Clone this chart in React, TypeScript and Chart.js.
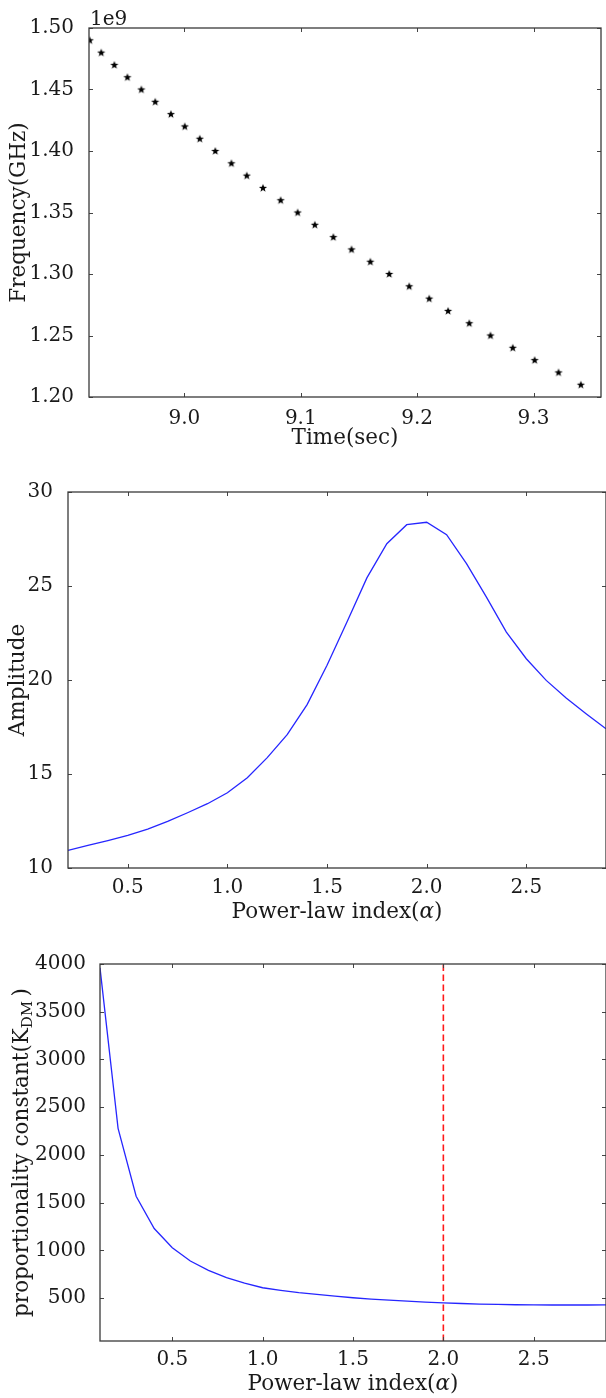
import React, { useEffect, useRef } from "react";
import { Chart, registerables } from "chart.js";
Chart.register(...registerables);

const FONT = "'DejaVu Serif', 'Liberation Serif', serif";
const TEXT = "#1a1a1a";
const TITLE_SIZE = 21.5;

// ---------- Chart 1: frequency vs time ----------
const timeSec = [
  8.9186, 8.9285, 8.9398, 8.951, 8.963, 8.9749, 8.9884, 9.0003, 9.0132, 9.0265,
  9.0404, 9.0536, 9.0675, 9.0827, 9.0973, 9.1121, 9.128, 9.1436, 9.1598, 9.176,
  9.1932, 9.2104, 9.2266, 9.2448, 9.263, 9.2822, 9.301, 9.3215, 9.3407,
];
const freqHz = [
  1.49e9, 1.48e9, 1.47e9, 1.46e9, 1.45e9, 1.44e9, 1.43e9, 1.42e9, 1.41e9, 1.4e9,
  1.39e9, 1.38e9, 1.37e9, 1.36e9, 1.35e9, 1.34e9, 1.33e9, 1.32e9, 1.31e9, 1.3e9,
  1.29e9, 1.28e9, 1.27e9, 1.26e9, 1.25e9, 1.24e9, 1.23e9, 1.22e9, 1.21e9,
];
const timeTicks = [9.0, 9.1, 9.2, 9.3];
const freqTicks = [1.2e9, 1.25e9, 1.3e9, 1.35e9, 1.4e9, 1.45e9, 1.5e9];

// ---------- Chart 2: amplitude vs power-law index ----------
const alphaAmp = [
  0.2, 0.3, 0.4, 0.5, 0.6, 0.7, 0.8, 0.9, 1.0, 1.1, 1.2, 1.3, 1.4, 1.5,
  1.6, 1.7, 1.8, 1.9, 2.0, 2.1, 2.2, 2.3, 2.4, 2.5, 2.6, 2.7, 2.8, 2.9,
];
const amplitude = [
  10.94, 11.2, 11.46, 11.74, 12.07, 12.48, 12.94, 13.42, 14.0, 14.8, 15.87, 17.09, 18.69, 20.78,
  23.09, 25.43, 27.25, 28.26, 28.39, 27.73, 26.19, 24.41, 22.55, 21.13, 19.98, 19.04, 18.21, 17.41,
];
const ampTicks = [10, 15, 20, 25, 30];
const alphaTicks = [0.5, 1.0, 1.5, 2.0, 2.5];

// ---------- Chart 3: proportionality constant vs power-law index ----------
const alphaK = [
  0.1, 0.2, 0.3, 0.4, 0.5, 0.6, 0.7, 0.8, 0.9, 1.0, 1.1, 1.2, 1.3, 1.4, 1.5,
  1.6, 1.7, 1.8, 1.9, 2.0, 2.1, 2.2, 2.3, 2.4, 2.5, 2.6, 2.7, 2.8, 2.9,
];
const kdm = [
  3960, 2278, 1567, 1228, 1028, 888, 790, 713, 657, 608, 580, 556, 538, 521, 503,
  489, 479, 468, 458, 450, 443, 437, 433, 430, 428, 427, 427, 427, 428,
];
const kTicks = [500, 1000, 1500, 2000, 2500, 3000, 3500, 4000];
const markerAlpha = 2.0;

type Seg = { t: string; size?: number; italic?: boolean; dy?: number };

interface FrameCfg {
  xTitle: Seg[];
  xTitleY: number;
  yTitle: Seg[];
  yTitleX: number;
  offsetText?: string;
}

function segFont(s: Seg) {
  return `${s.italic ? "italic " : ""}${s.size || TITLE_SIZE}px ${FONT}`;
}

function drawSegs(ctx: CanvasRenderingContext2D, segs: Seg[], cx: number, cy: number, rotate: boolean) {
  ctx.save();
  ctx.translate(cx, cy);
  if (rotate) ctx.rotate(-Math.PI / 2);
  let total = 0;
  const widths = segs.map((s) => {
    ctx.font = segFont(s);
    const w = ctx.measureText(s.t).width;
    total += w;
    return w;
  });
  let x = -total / 2;
  ctx.textBaseline = "alphabetic";
  ctx.textAlign = "left";
  ctx.fillStyle = TEXT;
  segs.forEach((s, i) => {
    ctx.font = segFont(s);
    ctx.fillText(s.t, x, TITLE_SIZE * 0.36 + (s.dy || 0));
    x += widths[i];
  });
  ctx.restore();
}

function makeFrame(cfg: FrameCfg) {
  return {
    id: "frame",
    afterDatasetsDraw(chart: any) {
      const { ctx, chartArea: a } = chart;
      const xs = chart.scales.x;
      const ys = chart.scales.y;
      ctx.save();
      ctx.strokeStyle = "#444";
      ctx.lineWidth = 1;
      ctx.beginPath();
      const tl = 4;
      xs.ticks.forEach((t: any) => {
        const px = Math.round(xs.getPixelForValue(t.value)) + 0.5;
        ctx.moveTo(px, a.bottom);
        ctx.lineTo(px, a.bottom - tl);
        ctx.moveTo(px, a.top);
        ctx.lineTo(px, a.top + tl);
      });
      ys.ticks.forEach((t: any) => {
        const py = Math.round(ys.getPixelForValue(t.value)) + 0.5;
        ctx.moveTo(a.left, py);
        ctx.lineTo(a.left + tl, py);
        ctx.moveTo(a.right, py);
        ctx.lineTo(a.right - tl, py);
      });
      ctx.stroke();
      ctx.lineWidth = 1.3;
      ctx.strokeStyle = "#3a3a3a";
      ctx.strokeRect(a.left, a.top, a.right - a.left, a.bottom - a.top);
      drawSegs(ctx, cfg.xTitle, (a.left + a.right) / 2, cfg.xTitleY, false);
      drawSegs(ctx, cfg.yTitle, cfg.yTitleX, (a.top + a.bottom) / 2, true);
      if (cfg.offsetText) {
        ctx.font = `20px ${FONT}`;
        ctx.fillStyle = TEXT;
        ctx.textAlign = "left";
        ctx.textBaseline = "alphabetic";
        ctx.fillText(cfg.offsetText, a.left + 1, a.top - 3);
      }
      ctx.restore();
    },
  };
}

function scaleCfg(
  min: number,
  max: number,
  tickVals: number[],
  fmt: (v: number) => string,
  axis: "x" | "y",
  size: number,
  pad: number
) {
  return {
    type: "linear" as const,
    min,
    max,
    grid: { display: false },
    border: { display: false },
    ticks: {
      padding: pad,
      font: { family: FONT, size: 20 },
      color: TEXT,
      autoSkip: false,
      maxRotation: 0,
      callback: (v: any) => fmt(Number(v)),
    },
    afterBuildTicks: (s: any) => {
      s.ticks = tickVals.map((v) => ({ value: v }));
    },
    afterFit: (s: any) => {
      if (axis === "y") s.width = size;
      else s.height = size;
    },
  };
}

function makeStar(): HTMLCanvasElement {
  const c = document.createElement("canvas");
  c.width = 10;
  c.height = 10;
  const g = c.getContext("2d")!;
  g.fillStyle = "#000";
  g.beginPath();
  const R = 4.3;
  const r = 1.8;
  for (let i = 0; i < 10; i++) {
    const ang = -Math.PI / 2 + (i * Math.PI) / 5;
    const rad = i % 2 === 0 ? R : r;
    const px = 5 + rad * Math.cos(ang);
    const py = 5.3 + rad * Math.sin(ang);
    if (i === 0) g.moveTo(px, py);
    else g.lineTo(px, py);
  }
  g.closePath();
  g.fill();
  return c;
}

function config1(): any {
  return {
    type: "scatter",
    data: {
      datasets: [
        {
          data: timeSec.map((t, i) => ({ x: t, y: freqHz[i] })),
          pointStyle: makeStar(),
          pointRadius: 4,
          showLine: false,
          clip: 0,
        },
      ],
    },
    options: {
      responsive: false,
      animation: false,
      devicePixelRatio: 1,
      layout: { padding: { left: 0, top: 28, right: 2, bottom: 0 } },
      plugins: { legend: { display: false }, tooltip: { enabled: false } },
      scales: {
        x: scaleCfg(8.918, 9.358, timeTicks, (v) => v.toFixed(1), "x", 460 - 397, 2),
        y: scaleCfg(1.2e9, 1.5e9, freqTicks, (v) => (v / 1e9).toFixed(2), "y", 89, 7),
      },
    },
    plugins: [
      makeFrame({
        xTitle: [{ t: "Time(sec)" }],
        xTitleY: 436,
        yTitle: [{ t: "Frequency(GHz)" }],
        yTitleX: 17,
        offsetText: "1e9",
      }),
    ],
  };
}

const alphaTitle: Seg[] = [{ t: "Power-law index(" }, { t: "α", italic: true }, { t: ")" }];

function config2(): any {
  return {
    type: "scatter",
    data: {
      datasets: [
        {
          data: alphaAmp.map((a, i) => ({ x: a, y: amplitude[i] })),
          showLine: true,
          borderColor: "#2626ff",
          borderWidth: 1.3,
          pointRadius: 0,
          fill: false,
          clip: 0,
        },
      ],
    },
    options: {
      responsive: false,
      animation: false,
      devicePixelRatio: 1,
      layout: { padding: { left: 0, top: 32, right: 0, bottom: 0 } },
      plugins: { legend: { display: false }, tooltip: { enabled: false } },
      scales: {
        x: scaleCfg(0.2, 2.9, alphaTicks, (v) => v.toFixed(1), "x", 470 - 408, 0),
        y: scaleCfg(10, 30, ampTicks, (v) => String(v), "y", 68, 7),
      },
    },
    plugins: [
      makeFrame({
        xTitle: alphaTitle,
        xTitleY: 450,
        yTitle: [{ t: "Amplitude" }],
        yTitleX: 16,
      }),
    ],
  };
}

function config3(): any {
  return {
    type: "scatter",
    data: {
      datasets: [
        {
          data: alphaK.map((a, i) => ({ x: a, y: kdm[i] })),
          showLine: true,
          borderColor: "#2626ff",
          borderWidth: 1.3,
          pointRadius: 0,
          fill: false,
          clip: 0,
        },
        {
          data: [
            { x: markerAlpha, y: 50 },
            { x: markerAlpha, y: 4000 },
          ],
          showLine: true,
          borderColor: "#ff1a1a",
          borderWidth: 1.6,
          borderDash: [6.5, 3.5],
          pointRadius: 0,
          fill: false,
          clip: 0,
        },
      ],
    },
    options: {
      responsive: false,
      animation: false,
      devicePixelRatio: 1,
      layout: { padding: { left: 0, top: 34, right: 0, bottom: 0 } },
      plugins: { legend: { display: false }, tooltip: { enabled: false } },
      scales: {
        x: scaleCfg(0.1, 2.9, alphaTicks, (v) => v.toFixed(1), "x", 468 - 411, -1),
        y: scaleCfg(50, 4000, kTicks, (v) => String(v), "y", 100, 6),
      },
    },
    plugins: [
      makeFrame({
        xTitle: alphaTitle,
        xTitleY: 452,
        yTitle: [{ t: "proportionality constant(K" }, { t: "DM", size: 15, dy: 4 }, { t: "\u2009)" }],
        yTitleX: 20,
      }),
    ],
  };
}

function ChartCanvas({ height, make }: { height: number; make: () => any }) {
  const ref = useRef<HTMLCanvasElement>(null);
  useEffect(() => {
    const c = new Chart(ref.current as HTMLCanvasElement, make());
    return () => c.destroy();
  }, []);
  return (
    <div style={{ width: 606, height, position: "relative", overflow: "hidden" }}>
      <canvas ref={ref} width={606} height={height} style={{ display: "block", width: 606, height }} />
    </div>
  );
}

export default function App() {
  useEffect(() => {
    document.body.style.margin = "0";
    document.body.style.background = "#fff";
  }, []);
  return (
    <div style={{ width: 606, height: 1398, background: "#fff", overflow: "hidden" }}>
      <style>{`body{margin:0;}`}</style>
      <ChartCanvas height={460} make={config1} />
      <ChartCanvas height={470} make={config2} />
      <ChartCanvas height={468} make={config3} />
    </div>
  );
}
